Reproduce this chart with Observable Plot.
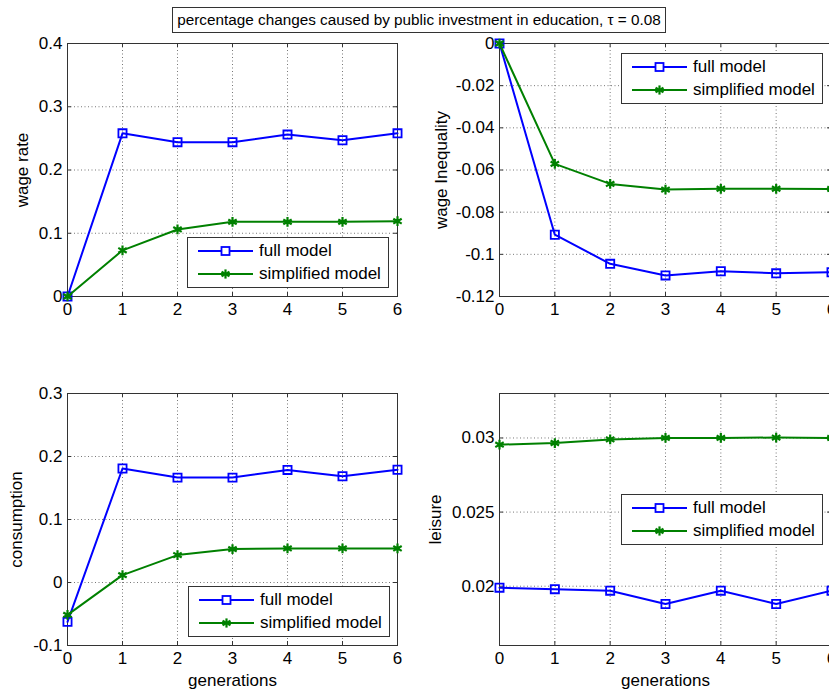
<!DOCTYPE html>
<html>
<head>
<meta charset="utf-8">
<script src="https://cdn.jsdelivr.net/npm/d3@7"></script>
<script src="https://cdn.jsdelivr.net/npm/@observablehq/plot@0.6"></script>
<style>
  html, body { margin: 0; padding: 0; background: #fff; overflow: hidden; }
  #root { position: relative; width: 829px; height: 693px; overflow: hidden; background: #fff;
          font-family: "Liberation Sans", Arial, sans-serif; }
  .panel { position: absolute; }
  .panel svg { max-width: none !important; }
  .legend { position: absolute; background: #fff; border: 1px solid #333; box-sizing: border-box; }
  .legend .row { position: absolute; left: 0; height: 20px; display: flex; align-items: center; }
  .legend .row span { font-size: 17px; color: #000; white-space: nowrap; }
  #title { position: absolute; left: 172px; top: 7px; width: 494px; height: 26px; border: 1px solid #333;
           box-sizing: border-box; background: #fff; font-size: 15.3px; line-height: 24px; text-align: center; color: #000; white-space: nowrap; }
</style>
</head>
<body>
<div id="root">
</div>
<script>
// ---- data ----
const generations = [0, 1, 2, 3, 4, 5, 6];
const wageFull = [0, 0.258, 0.244, 0.244, 0.256, 0.247, 0.258];
const wageSimp = [0, 0.073, 0.106, 0.118, 0.118, 0.118, 0.119];
const ineqFull = [0, -0.0907, -0.1045, -0.110, -0.108, -0.109, -0.1085];
const ineqSimp = [0, -0.0571, -0.0666, -0.0693, -0.0689, -0.0689, -0.069];
const consFull = [-0.0625, 0.181, 0.1665, 0.1665, 0.1787, 0.1686, 0.179];
const consSimp = [-0.0514, 0.0117, 0.0435, 0.053, 0.054, 0.054, 0.054];
const leisFull = [0.0199, 0.0198, 0.0197, 0.0188, 0.0197, 0.0188, 0.0197];
const leisSimp = [0.02955, 0.02966, 0.0299, 0.0300, 0.0300, 0.03003, 0.0300];

const xTicks = [0, 1, 2, 3, 4, 5, 6];
const wageTicks = [0, 0.1, 0.2, 0.3, 0.4];
const ineqTicks = [0, -0.02, -0.04, -0.06, -0.08, -0.1, -0.12];
const consTicks = [-0.1, 0, 0.1, 0.2, 0.3];
const leisTicks = [0.02, 0.025, 0.03];

const seriesNames = ["full model", "simplified model"];
const titleText = "percentage changes caused by public investment in education, \u03c4 = 0.08";

const BLUE = "#0000ff";
const GREEN = "#008000";
const FONT = '"Liberation Sans", Arial, sans-serif';

const root = document.getElementById("root");

function fmt(d) {
  if (d === 0) return "0";
  return String(+d.toFixed(4));
}

function panel({full, simp, yDomain, yTicks, yLabel, xLabel, frameLeft, frameTop, frameW, frameH, yLabelOffset, legendPos}) {
  const mL = 80, mR = 20, mT = 10, mB = 55;
  const fullData = generations.map((g, i) => ({g, v: full[i]}));
  const simpData = generations.map((g, i) => ({g, v: simp[i]}));
  const grid = {stroke: "#777", strokeOpacity: 1, strokeWidth: 1, strokeDasharray: "1,2.5"};
  const tk = 4;
  const tickStyle = {stroke: "#333", strokeWidth: 1};
  const W = mL + frameW + mR, H = mT + frameH + mB;
  const svg = Plot.plot({
    width: W,
    height: H,
    marginLeft: mL, marginRight: mR, marginTop: mT, marginBottom: mB,
    style: {fontFamily: FONT, fontSize: "17px", background: "transparent", color: "#000", overflow: "visible", maxWidth: "none"},
    x: {domain: [0, 6]},
    y: {domain: yDomain},
    marks: [
      Plot.gridX(xTicks, grid),
      Plot.gridY(yTicks, grid),
      // inward tick marks on all four sides (MATLAB box style)
      Plot.tickX(xTicks, {x: d => d, insetTop: frameH - tk, ...tickStyle}),
      Plot.tickX(xTicks, {x: d => d, insetBottom: frameH - tk, ...tickStyle}),
      Plot.tickY(yTicks, {y: d => d, insetRight: frameW - tk, ...tickStyle}),
      Plot.tickY(yTicks, {y: d => d, insetLeft: frameW - tk, ...tickStyle}),
      Plot.axisX(xTicks, {tickSize: 0, tickPadding: 6, tickFormat: d => String(d),
        label: xLabel, labelAnchor: "center", labelArrow: "none", labelOffset: 40, fill: "#000"}),
      Plot.axisY(yTicks, {tickSize: 0, tickPadding: 5, tickFormat: fmt,
        label: yLabel, labelAnchor: "center", labelArrow: "none", labelOffset: yLabelOffset, fill: "#000"}),
      Plot.frame({stroke: "#333", strokeWidth: 1}),
      Plot.line(fullData, {x: "g", y: "v", stroke: BLUE, strokeWidth: 2}),
      Plot.dot(fullData, {x: "g", y: "v", symbol: "square", r: 4.6, stroke: BLUE, fill: "none", strokeWidth: 1.8}),
      Plot.line(simpData, {x: "g", y: "v", stroke: GREEN, strokeWidth: 2}),
      Plot.dot(simpData, {x: "g", y: "v", symbol: "asterisk", r: 4.6, stroke: GREEN, strokeWidth: 2.2})
    ]
  });
  const wrap = document.createElement("div");
  wrap.className = "panel";
  wrap.style.left = (frameLeft - mL) + "px";
  wrap.style.top = (frameTop - mT) + "px";
  wrap.style.width = W + "px";
  wrap.style.height = H + "px";
  wrap.appendChild(svg);
  root.appendChild(wrap);
  legend(legendPos);
}

function legend({left, top}) {
  const box = document.createElement("div");
  box.className = "legend";
  box.style.left = left + "px";
  box.style.top = top + "px";
  box.style.width = "202px";
  box.style.height = "51px";
  const rows = [
    {name: seriesNames[0], color: BLUE, sym: "square", y: 3},
    {name: seriesNames[1], color: GREEN, sym: "asterisk", y: 26}
  ];
  for (const r of rows) {
    const row = document.createElement("div");
    row.className = "row";
    row.style.top = r.y + "px";
    const ns = "http://www.w3.org/2000/svg";
    const s = document.createElementNS(ns, "svg");
    s.setAttribute("width", 70);
    s.setAttribute("height", 20);
    let inner = `<line x1="10" x2="65" y1="10" y2="10" stroke="${r.color}" stroke-width="2"/>`;
    if (r.sym === "square") {
      inner += `<rect x="33.5" y="6" width="8" height="8" fill="#fff" stroke="${r.color}" stroke-width="1.8"/>`;
    } else {
      const c = 37.5, cy = 10, a = 4.6;
      for (let k = 0; k < 3; k++) {
        const ang = Math.PI / 2 + k * Math.PI / 3;
        inner += `<line x1="${c - a * Math.cos(ang)}" y1="${cy - a * Math.sin(ang)}" x2="${c + a * Math.cos(ang)}" y2="${cy + a * Math.sin(ang)}" stroke="${r.color}" stroke-width="2.2"/>`;
      }
    }
    s.innerHTML = inner;
    row.appendChild(s);
    const t = document.createElement("span");
    t.textContent = r.name;
    t.style.marginLeft = "1px";
    row.appendChild(t);
    box.appendChild(row);
  }
  root.appendChild(box);
}

panel({full: wageFull, simp: wageSimp, yDomain: [0, 0.4], yTicks: wageTicks, yLabel: "wage rate", xLabel: null,
  frameLeft: 67, frameTop: 43, frameW: 330, frameH: 253, yLabelOffset: 52, legendPos: {left: 187, top: 237}});
panel({full: ineqFull, simp: ineqSimp, yDomain: [-0.12, 0], yTicks: ineqTicks, yLabel: "wage Inequality", xLabel: null,
  frameLeft: 499, frameTop: 43, frameW: 332, frameH: 253, yLabelOffset: 64.5, legendPos: {left: 621, top: 53}});
panel({full: consFull, simp: consSimp, yDomain: [-0.1, 0.3], yTicks: consTicks, yLabel: "consumption", xLabel: "generations",
  frameLeft: 67, frameTop: 393, frameW: 330, frameH: 252, yLabelOffset: 58, legendPos: {left: 188, top: 586}});
panel({full: leisFull, simp: leisSimp, yDomain: [0.016, 0.033], yTicks: leisTicks, yLabel: "leisure", xLabel: "generations",
  frameLeft: 499, frameTop: 393, frameW: 332, frameH: 252, yLabelOffset: 71, legendPos: {left: 621, top: 494}});

const title = document.createElement("div");
title.id = "title";
title.textContent = titleText;
root.appendChild(title);
</script>
</body>
</html>
